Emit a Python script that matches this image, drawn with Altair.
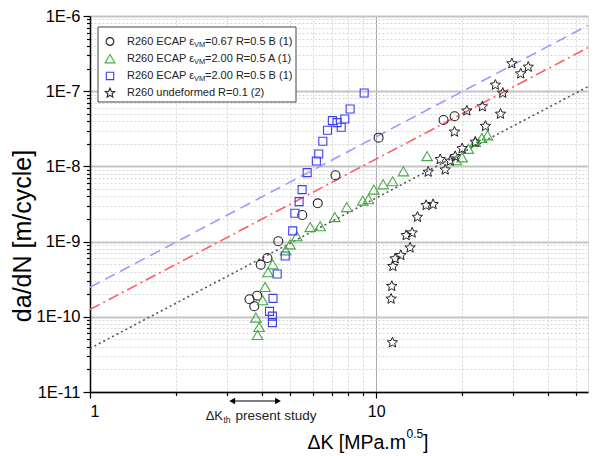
import altair as alt
import pandas as pd

# ---------------- data ----------------
circ_dk = [3.61, 3.84, 3.75, 3.95, 4.17, 4.55, 5.52, 6.25, 7.21, 10.2, 17.2, 18.8]
circ_dadn = [1.71e-10, 1.91e-10, 1.38e-10, 4.94e-10, 6.05e-10, 1.01e-9, 2.26e-9, 3.23e-9,
             7.62e-9, 2.41e-8, 4.14e-8, 4.64e-8]

tri_dk = [3.85, 3.90, 3.80, 4.01, 4.09, 4.19, 4.35, 4.83, 5.00, 5.28, 5.88, 6.37, 7.17, 7.90,
          8.98, 9.40, 9.82, 10.58, 11.42, 12.45, 15.07, 19.05, 19.98, 21.0, 22.2, 23.4, 24.5]
tri_dadn = [5.73e-11, 7.32e-11, 9.75e-11, 1.66e-10, 2.49e-10, 3.91e-10, 4.99e-10, 7.66e-10,
            9.20e-10, 1.18e-9, 1.56e-9, 1.60e-9, 2.12e-9, 2.88e-9, 3.51e-9, 3.67e-9, 4.91e-9,
            5.78e-9, 6.34e-9, 8.61e-9, 1.37e-8, 1.21e-8, 1.32e-8, 1.71e-8, 2.11e-8, 2.39e-8,
            2.59e-8]

sq_dk = [4.34, 4.34, 4.24, 4.36, 4.51, 4.81, 5.11, 5.20, 5.38, 5.51, 5.74, 6.18, 6.30, 6.51,
         6.76, 7.03, 7.30, 7.55, 7.77, 8.11, 9.08]
sq_dadn = [8.37e-11, 1.02e-10, 1.18e-10, 1.76e-10, 3.71e-10, 6.44e-10, 1.39e-9, 2.38e-9,
           3.40e-9, 4.91e-9, 8.27e-9, 1.18e-8, 1.46e-8, 2.16e-8, 3.02e-8, 4.06e-8, 3.82e-8,
           3.31e-8, 4.27e-8, 5.79e-8, 9.46e-8]

star_dk = [11.40, 11.28, 11.34, 11.44, 11.65, 12.20, 13.14, 12.73, 13.36, 13.94, 14.95, 15.81,
           15.20, 17.43, 16.74, 18.15, 18.89, 19.98, 22.2, 18.78, 24.1, 20.75, 23.5, 27.2,
           26.1, 27.7, 29.8, 32.0, 34.0]
star_dadn = [4.54e-11, 1.73e-10, 2.55e-10, 4.70e-10, 5.94e-10, 6.58e-10, 8.28e-10, 1.21e-9,
             1.31e-9, 2.12e-9, 3.04e-9, 3.13e-9, 8.43e-9, 9.02e-9, 1.24e-8, 1.18e-8, 1.36e-8,
             1.73e-8, 2.11e-8, 2.88e-8, 3.43e-8, 5.49e-8, 6.24e-8, 4.98e-8, 1.21e-7, 9.46e-8,
             2.33e-7, 1.71e-7, 2.10e-7]

# fitted lines (end points read at the plot edges)
line_dk = [1, 55]
blue_line = [2.47e-10, 7.5e-7]
red_line = [1.25e-10, 3.8e-7]
gray_line = [3.8e-11, 1.15e-7]

# threshold range arrow
kth_range = [3.14, 4.54]

X_DOMAIN = [1, 55]
Y_DOMAIN = [1e-11, 1e-6]
x_ticks = [1, 2, 3, 4, 5, 6, 7, 8, 9, 10, 20, 30, 40, 50]
y_ticks = [m * 10.0 ** e for e in range(-11, -6) for m in range(1, 10)] + [1e-6]

legend_pre = ["R260 ECAP \u03b5", "R260 ECAP \u03b5", "R260 ECAP \u03b5", "R260 undeformed R=0.1 (2)"]
legend_sub = ["VM", "VM", "VM", ""]
legend_post = ["=0.67 R=0.5 B (1)", "=2.00 R=0.5 A (1)", "=2.00 R=0.5 B (1)", ""]

# ---------------- styling ----------------
FONT = "Liberation Sans"
STAR = ("M0,-1L0.265,-0.364L0.951,-0.309L0.428,0.139L0.588,0.809L0,0.45"
        "L-0.588,0.809L-0.428,0.139L-0.951,-0.309L-0.265,-0.364Z")
C_CIRC = "#222222"
C_TRI = "#44aa44"
C_SQ = "#3c3cf0"
C_STAR = "#222222"

MAJOR = "abs(log(datum.value)/LN10 - round(log(datum.value)/LN10)) < 0.001"

xaxis = alt.Axis(
    values=x_ticks, title=None,
    labelExpr=f"({MAJOR}) ? ('' + round(datum.value)) : ''",
    labelFont=FONT, labelFontSize=16, labelColor="black", labelPadding=5,
    domainColor="black", domainWidth=1.5,
    tickColor="black", tickWidth=1.2,
    tickSize={"condition": {"test": MAJOR, "value": 6}, "value": 3.5},
    grid=True,
    gridColor={"condition": {"test": MAJOR, "value": "#8c8c8c"}, "value": "#d6d6d6"},
    gridDash={"condition": {"test": MAJOR, "value": [1, 0]}, "value": [2, 2]},
    gridWidth=1,
)
yaxis = alt.Axis(
    values=y_ticks, title=None,
    labelExpr=f"({MAJOR}) ? ('1E' + round(log(datum.value)/LN10)) : ''",
    labelFont=FONT, labelFontSize=16.5, labelColor="black", labelPadding=3,
    domainColor="black", domainWidth=1.5,
    tickColor="black", tickWidth=1.2,
    tickSize={"condition": {"test": MAJOR, "value": 7}, "value": 3.5},
    grid=True,
    gridColor={"condition": {"test": MAJOR, "value": "#c4c4c4"}, "value": "#d6d6d6"},
    gridDash={"condition": {"test": MAJOR, "value": [1, 0]}, "value": [2, 2]},
    gridWidth={"condition": {"test": MAJOR, "value": 2}, "value": 1},
)


def X(field):
    return alt.X(field, type="quantitative",
                 scale=alt.Scale(type="log", domain=X_DOMAIN, nice=False), axis=xaxis)


def Y(field):
    return alt.Y(field, type="quantitative",
                 scale=alt.Scale(type="log", domain=Y_DOMAIN, nice=False), axis=yaxis)


def series(dk, dadn):
    return pd.DataFrame({"dk": dk, "dadn": dadn})


layers = []

# fitted lines
for vals, color, dash in [(gray_line, "#555555", [2, 3]),
                          (red_line, "#ff5a68", [11, 4, 2, 4]),
                          (blue_line, "#9a9aff", [11, 6])]:
    layers.append(
        alt.Chart(series(line_dk, vals)).mark_line(color=color, strokeDash=dash, strokeWidth=1.6)
        .encode(x=X("dk"), y=Y("dadn"))
    )

# data points
layers.append(alt.Chart(series(circ_dk, circ_dadn)).mark_point(
    shape="circle", filled=False, color=C_CIRC, size=80, strokeWidth=1.1, opacity=1)
    .encode(x=X("dk"), y=Y("dadn")))
layers.append(alt.Chart(series(tri_dk, tri_dadn)).mark_point(
    shape="triangle-up", filled=False, color=C_TRI, size=110, strokeWidth=1.1, opacity=1)
    .encode(x=X("dk"), y=Y("dadn")))
layers.append(alt.Chart(series(sq_dk, sq_dadn)).mark_point(
    shape="square", filled=False, color=C_SQ, size=64, strokeWidth=1.1, opacity=1)
    .encode(x=X("dk"), y=Y("dadn")))
layers.append(alt.Chart(series(star_dk, star_dadn)).mark_point(
    shape=STAR, filled=False, color=C_STAR, size=120, strokeWidth=1.0, opacity=1)
    .encode(x=X("dk"), y=Y("dadn")))

# legend box
layers.append(alt.Chart(pd.DataFrame({"a": [0]})).mark_rect(
    fill="white", stroke="#444444", strokeWidth=1)
    .encode(x=alt.value(8), x2=alt.value(206), y=alt.value(11), y2=alt.value(86)))

leg_rows = [25.5, 42.7, 59.9, 77.1]
leg_shapes = [("circle", C_CIRC, 60), ("triangle-up", C_TRI, 95), ("square", C_SQ, 55), (STAR, C_STAR, 95)]
for i, (shape, color, size) in enumerate(leg_shapes):
    ry = leg_rows[i]
    layers.append(alt.Chart(pd.DataFrame({"a": [0]})).mark_point(
        shape=shape, filled=False, color=color, size=size, strokeWidth=1.1, opacity=1)
        .encode(x=alt.value(20), y=alt.value(ry)))
    layers.append(alt.Chart(pd.DataFrame({"a": [0]})).mark_text(
        text=legend_pre[i], font=FONT, fontSize=11, align="left", baseline="middle", color="#222222")
        .encode(x=alt.value(37), y=alt.value(ry)))
    if legend_sub[i]:
        layers.append(alt.Chart(pd.DataFrame({"a": [0]})).mark_text(
            text=legend_sub[i], font=FONT, fontSize=7.5, align="left", baseline="middle", color="#222222")
            .encode(x=alt.value(104), y=alt.value(ry + 3)))
        layers.append(alt.Chart(pd.DataFrame({"a": [0]})).mark_text(
            text=legend_post[i], font=FONT, fontSize=11, align="left", baseline="middle", color="#222222")
            .encode(x=alt.value(115), y=alt.value(ry)))

# threshold arrow below the axis
arrow_df = pd.DataFrame({"x1": [kth_range[0]], "x2": [kth_range[1]]})
layers.append(alt.Chart(arrow_df).mark_rule(color="black", strokeWidth=1)
              .encode(x=X("x1"), x2="x2", y=alt.value(385)))
heads = pd.DataFrame({"dk": kth_range, "s": ["left", "right"]})
layers.append(alt.Chart(heads).mark_point(filled=True, color="black", size=45, opacity=1)
              .encode(x=X("dk"), y=alt.value(385),
                      shape=alt.Shape("s:N", scale=alt.Scale(domain=["left", "right"],
                                                             range=["triangle-left", "triangle-right"]),
                                      legend=None)))

# annotation text "ΔK_th present study"
ann_y = 399.7
layers.append(alt.Chart(pd.DataFrame({"a": [0]})).mark_text(
    text="\u0394K", font=FONT, fontSize=13, align="right", baseline="middle", color="#222222")
    .encode(x=alt.value(133), y=alt.value(ann_y)))
layers.append(alt.Chart(pd.DataFrame({"a": [0]})).mark_text(
    text="th", font=FONT, fontSize=8.5, align="left", baseline="middle", color="#222222")
    .encode(x=alt.value(133.5), y=alt.value(ann_y + 4)))
layers.append(alt.Chart(pd.DataFrame({"a": [0]})).mark_text(
    text="present study", font=FONT, fontSize=13.5, align="left", baseline="middle", color="#222222")
    .encode(x=alt.value(145.5), y=alt.value(ann_y)))

# x axis title "ΔK [MPa.m^0.5]"
layers.append(alt.Chart(pd.DataFrame({"a": [0]})).mark_text(
    text="\u0394K [MPa.m", font=FONT, fontSize=19.5, align="right", baseline="middle", color="black")
    .encode(x=alt.value(316), y=alt.value(426.7)))
layers.append(alt.Chart(pd.DataFrame({"a": [0]})).mark_text(
    text="0.5", font=FONT, fontSize=12, align="left", baseline="middle", color="black")
    .encode(x=alt.value(316.5), y=alt.value(418)))
layers.append(alt.Chart(pd.DataFrame({"a": [0]})).mark_text(
    text="]", font=FONT, fontSize=19.5, align="left", baseline="middle", color="black")
    .encode(x=alt.value(333), y=alt.value(426.7)))

# y axis title
layers.append(alt.Chart(pd.DataFrame({"a": [0]})).mark_text(
    text="da/dN [m/cycle]", font=FONT, fontSize=25, angle=270, align="center",
    baseline="middle", color="black")
    .encode(x=alt.value(-67), y=alt.value(220)))

chart = alt.layer(*layers).properties(
    width=498, height=376,
    autosize=alt.AutoSizeParams(type="none"),
    padding={"left": 90, "top": 16, "right": 8, "bottom": 64},
    background="white",
).configure_view(strokeWidth=0).configure(font=FONT)

chart.save("out.html", embed_options={"renderer": "svg", "actions": False})
